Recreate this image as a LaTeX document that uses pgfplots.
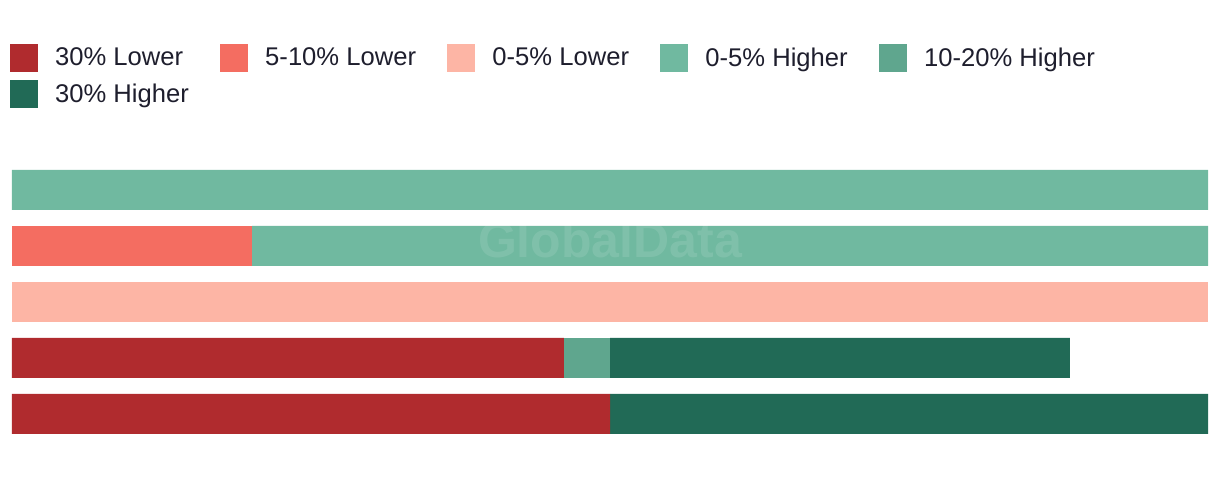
\documentclass[border=0pt]{standalone}
\usepackage{pgfplots}
\pgfplotsset{compat=1.18}
\usepackage{fontspec}
\setmainfont{Liberation Sans}
\definecolor{cA}{HTML}{B02B2E}
\definecolor{cB}{HTML}{F46D61}
\definecolor{cC}{HTML}{FDB5A5}
\definecolor{cD}{HTML}{70B9A0}
\definecolor{cE}{HTML}{5FA68E}
\definecolor{cF}{HTML}{216A56}
\definecolor{txt}{HTML}{1E1E2D}
\begin{document}
\begin{tikzpicture}
\begin{axis}[
  at={(9pt,27pt)}, anchor=south west,
  scale only axis, width=897pt, height=210pt,
  xmin=0, xmax=100, ymin=0.5, ymax=5.5,
  hide axis,
  xbar stacked, bar width=30pt,
  legend columns=5,
  legend cell align=left,
  legend style={
    at={(-0.00167,1.4214)}, anchor=north west,
    draw=none, fill=none, inner sep=0pt, outer sep=0pt,
    font=\fontsize{19.2}{22}\selectfont, text=txt,
    /tikz/every odd column/.append style={column sep=10.8pt},
    /tikz/every even column/.append style={column sep=21.5pt},
    row sep=6pt,
  },
  legend image code/.code={\fill[#1] (0pt,-10.5pt) rectangle (21pt,10.5pt);},
]
\addplot[fill=cA, draw=none] coordinates {(0,5) (0,4) (0,3) (46.15,2) (50,1)};
\addplot[fill=cB, draw=none] coordinates {(0,5) (20.07,4) (0,3) (0,2) (0,1)};
\addplot[fill=cC, draw=none] coordinates {(0,5) (0,4) (100,3) (0,2) (0,1)};
\addplot[fill=cD, draw=none] coordinates {(100,5) (79.93,4) (0,3) (0,2) (0,1)};
\addplot[fill=cE, draw=none] coordinates {(0,5) (0,4) (0,3) (3.85,2) (0,1)};
\addplot[fill=cF, draw=none] coordinates {(0,5) (0,4) (0,3) (38.46,2) (50,1)};
\legend{30\% Lower, 5-10\% Lower, 0-5\% Lower, 0-5\% Higher, 10-20\% Higher, 30\% Higher}
\coordinate (wm) at (axis cs:50,4.11);
\end{axis}
\node[text=white, opacity=0.11, font=\bfseries\fontsize{37.5}{40}\selectfont] at (wm) {GlobalData};
\pgfresetboundingbox
\path (0,0) rectangle (915pt,358.5pt);
\end{tikzpicture}
\end{document}
